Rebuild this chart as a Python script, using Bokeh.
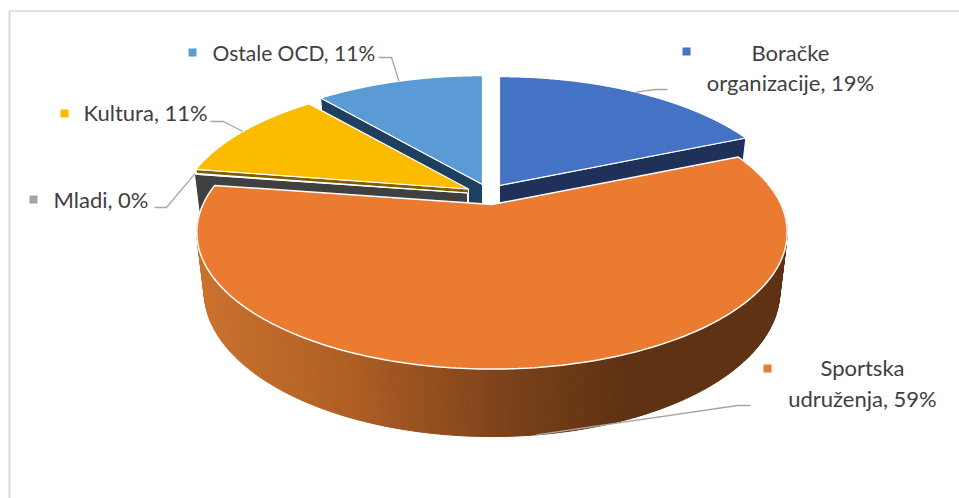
import numpy as np
from bokeh.plotting import figure
from bokeh.models import Range1d
from bokeh.core.properties import value
from bokeh.embed import file_html
from bokeh.resources import INLINE

# ---- data
categories = ["Boračke\norganizacije", "Sportska\nudruženja", "Mladi", "Kultura", "Ostale OCD"]
shares = [18.6, 58.8, 0.1, 11.3, 11.2]
top_colors = ["#4472C4", "#EA7B30", "#A5A5A5", "#FBBC00", "#5B9BD5"]
wall_colors = ["#1F3158", "#EA7B30", "#404040", "#7F6000", "#1F3F5F"]

# ---- layout of the projected pie
W, H = 959, 498
RX, RY, PERSP, DEPTH, SHRINK = 289.0, 131.0, 0.204, 57.0, 0.975
apex = {0: (499, 185), 1: (491.5, 204), 2: (467, 192.5), 3: (468, 188.5), 4: (482, 184)}
slice_scale = {0: 1.0, 1: 1.0, 2: 0.985, 3: 0.985, 4: 1.0}
draw_order = [4, 0, 3, 2, 1]
label_pos = {0: (790, 67, "center", "22px"), 1: (862, 382.5, "center", "22px"),
             2: (53, 199, "left", "22px"), 3: (83, 112, "left", "22px"),
             4: (212, 52, "left", "21px")}
marker_pos = {0: (686, 51), 1: (767, 368), 2: (33, 199), 3: (64, 113), 4: (192, 52)}
elbows = {0: [(655, 89), (667, 89)], 1: [(737, 405), (750, 405)], 2: [(166, 207), (154, 207)],
          3: [(223, 121), (210, 121)], 4: [(391, 57), (378, 57)]}
wall_stops_x = [200, 350, 510, 625]
wall_stops_rgb = [(204, 115, 46), (176, 95, 37), (122, 65, 26), (94, 50, 19)]
TXT = "#404040"
LEAD = "#A6A6A6"
FONT = "Lato"

edges = np.cumsum([0] + shares) * 3.6


def top_pt(i, deg):
    t = np.radians(deg)
    s = slice_scale[i] / (1 + PERSP * np.cos(t))
    ax, ay = apex[i]
    return ax + RX * np.sin(t) * s, ay - RY * np.cos(t) * s


def bottom_pt(i, deg):
    t = np.radians(deg)
    s = slice_scale[i] / (1 + PERSP * np.cos(t))
    ax, ay = apex[i]
    return ax + SHRINK * RX * np.sin(t) * s, ay - SHRINK * RY * np.cos(t) * s + DEPTH * s


def mid(i):
    return (edges[i] + edges[i + 1]) / 2


p = figure(width=W, height=H, x_range=Range1d(0, W), y_range=Range1d(H, 0),
           output_backend="svg", toolbar_location=None, min_border=0,
           outline_line_color=None, background_fill_color="white")
p.axis.visible = False
p.grid.visible = False

# chart frame
p.line([9, 9], [H, 10.5], line_color="#D9D9D9", line_width=2)
p.line([9, W], [10.5, 10.5], line_color="#D9D9D9", line_width=1.5)

for i in draw_order:
    a0, a1 = edges[i], edges[i + 1]
    if i == 1:
        # outer wall, shaded by horizontal position
        ts = np.linspace(a0, a1, 221)
        xs, ys, cols = [], [], []
        for u, v in zip(ts[:-1], ts[1:]):
            p0, p1, p2, p3 = top_pt(i, u), top_pt(i, v), bottom_pt(i, v), bottom_pt(i, u)
            xs.append([p0[0], p1[0], p2[0], p3[0]])
            ys.append([p0[1], p1[1], p2[1], p3[1]])
            xm = (p2[0] + p3[0]) / 2
            rgb = [np.interp(xm, wall_stops_x, [c[k] for c in wall_stops_rgb]) for k in range(3)]
            cols.append("#%02x%02x%02x" % tuple(int(c) for c in rgb))
        p.patches(xs, ys, fill_color=cols, line_color=cols, line_width=1)
    else:
        # cut face toward the viewer
        edge = a0 if i in (2, 3, 4) else a1
        rx, ry = top_pt(i, edge)
        bx, by = bottom_pt(i, edge)
        ax, ay = apex[i]
        p.patch([ax, rx, bx, ax], [ay, ry, by, ay + DEPTH],
                fill_color=wall_colors[i], line_color="white", line_width=1)
    ts = np.linspace(a0, a1, 240)
    pts = [top_pt(i, t) for t in ts]
    p.patch([apex[i][0]] + [q[0] for q in pts], [apex[i][1]] + [q[1] for q in pts],
            fill_color=top_colors[i], line_color="white", line_width=1.5 if i == 1 else 1.2)

# leader lines, labels, markers
for i in range(len(shares)):
    start = bottom_pt(i, mid(i)) if i == 1 else top_pt(i, mid(i))
    path = [start] + elbows[i]
    p.line([q[0] for q in path], [q[1] for q in path], line_color=LEAD, line_width=1.3)
    mx, my = marker_pos[i]
    p.scatter([mx], [my], marker="square", size=8, fill_color=top_colors[i], line_color=None)
    lx, ly, al, fs = label_pos[i]
    txt = f"{categories[i]}, {round(shares[i])}%"
    p.text([lx], [ly], text=[txt], text_align=al, text_baseline="middle",
           text_font=value(FONT), text_font_size=fs, text_color=TXT, text_line_height=1.14)

open("out.html", "w").write(file_html(p, INLINE))
